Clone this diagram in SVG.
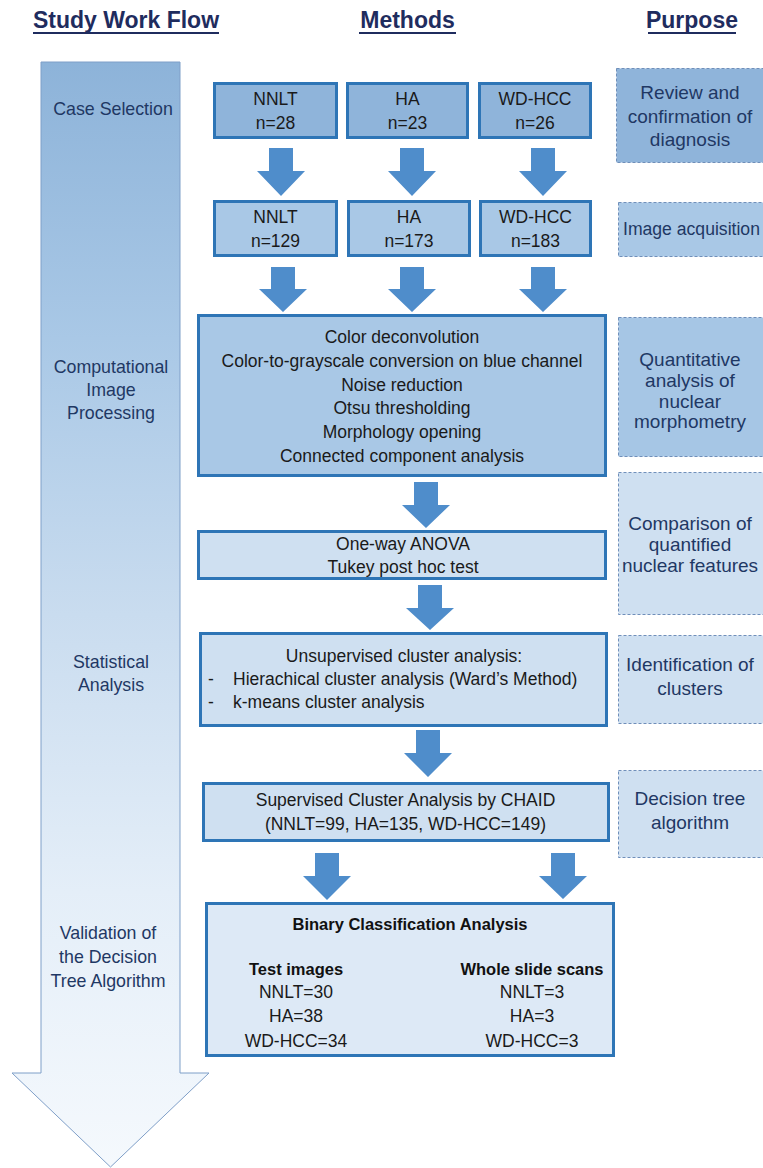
<svg xmlns="http://www.w3.org/2000/svg" width="763" height="1168" viewBox="0 0 763 1168">
<defs>
<linearGradient id="flowGrad" x1="0" y1="0" x2="0" y2="1">
<stop offset="0" stop-color="#8db3d9"/>
<stop offset="0.25" stop-color="#a9c8e6"/>
<stop offset="0.5" stop-color="#c9dcef"/>
<stop offset="0.75" stop-color="#e4eef8"/>
<stop offset="1" stop-color="#f5f9fd"/>
</linearGradient>
</defs>
<style>
text{font-family:"Liberation Sans",Arial,sans-serif}
.hdr{font-size:23px;font-weight:bold;fill:#1f2c5e;text-anchor:middle}
.ul{stroke:#1f2c5e;stroke-width:2}
.lbl{font-size:17.8px;fill:#1f3864;text-anchor:middle}
.pur{font-size:19px;fill:#1f3864;text-anchor:middle}
.m{font-size:17.5px;fill:#1a1a1a;text-anchor:middle}
.ms{font-size:17.5px;fill:#1a1a1a}
.b{font-size:16.5px;font-weight:bold;fill:#111;text-anchor:middle}
.box{stroke:#2e75b6;stroke-width:3}
.pbox{stroke:#6f8fba;stroke-width:1;stroke-dasharray:3 2}
.arr{fill:#4f8dcb}
.f1{fill:#8fb4da}
.f2{fill:#a9c8e6}
.f3{fill:#cfe0f1}
.f4{fill:#dde9f6}
</style>
<rect width="763" height="1168" fill="#ffffff"/>

<g id="headers">
<text class="hdr" x="126" y="28">Study Work Flow</text>
<line class="ul" x1="33" y1="33" x2="219" y2="33"/>
<text class="hdr" x="407.5" y="28">Methods</text>
<line class="ul" x1="359" y1="33" x2="456" y2="33"/>
<text class="hdr" x="692" y="28">Purpose</text>
<line class="ul" x1="648" y1="33" x2="736" y2="33"/>
</g>

<g id="workflow-arrow">
<polygon points="41,62 180,62 180,1073 209,1073 110.5,1167 12,1073 41,1073" fill="url(#flowGrad)" stroke="#7f9fc8" stroke-width="1"/>
<text class="lbl" x="113" y="115">Case Selection</text>
<text class="lbl" x="111" y="373">Computational</text>
<text class="lbl" x="111" y="396">Image</text>
<text class="lbl" x="111" y="419">Processing</text>
<text class="lbl" x="111" y="668">Statistical</text>
<text class="lbl" x="111" y="691">Analysis</text>
<text class="lbl" x="108" y="939">Validation of</text>
<text class="lbl" x="108" y="963">the Decision</text>
<text class="lbl" x="108" y="987">Tree Algorithm</text>
</g>

<g id="connectors">
<path class="arr" d="M269,148 h24 v23 h12 l-24,25 l-24,-25 h12 z"/>
<path class="arr" d="M400,148 h24 v23 h12 l-24,25 l-24,-25 h12 z"/>
<path class="arr" d="M531,148 h24 v23 h12 l-24,25 l-24,-25 h12 z"/>
<path class="arr" d="M271,267 h24 v22 h12 l-24,23 l-24,-23 h12 z"/>
<path class="arr" d="M400,267 h24 v22 h12 l-24,23 l-24,-23 h12 z"/>
<path class="arr" d="M531,267 h24 v22 h12 l-24,23 l-24,-23 h12 z"/>
<path class="arr" d="M414,482 h24 v23 h12 l-24,23 l-24,-23 h12 z"/>
<path class="arr" d="M418,585 h24 v23 h12 l-24,22 l-24,-22 h12 z"/>
<path class="arr" d="M416,730 h24 v23 h12 l-24,24 l-24,-24 h12 z"/>
<path class="arr" d="M315,853 h24 v23 h12 l-24,24 l-24,-24 h12 z"/>
<path class="arr" d="M551,853 h24 v23 h12 l-24,23 l-24,-23 h12 z"/>
</g>

<g id="nnlt-cases">
<rect class="box f1" x="214.5" y="83.5" width="122" height="54"/>
<text class="m" x="275.5" y="105">NNLT</text>
<text class="m" x="275.5" y="129">n=28</text>
</g>
<g id="ha-cases">
<rect class="box f1" x="347.5" y="83.5" width="120" height="54"/>
<text class="m" x="407.5" y="105">HA</text>
<text class="m" x="407.5" y="129">n=23</text>
</g>
<g id="wdhcc-cases">
<rect class="box f1" x="479.5" y="83.5" width="111" height="54"/>
<text class="m" x="535" y="105">WD-HCC</text>
<text class="m" x="535" y="129">n=26</text>
</g>

<g id="nnlt-images">
<rect class="box f2" x="214.5" y="201.5" width="122" height="54"/>
<text class="m" x="275.5" y="223">NNLT</text>
<text class="m" x="275.5" y="247">n=129</text>
</g>
<g id="ha-images">
<rect class="box f2" x="348.5" y="201.5" width="121" height="54"/>
<text class="m" x="409" y="223">HA</text>
<text class="m" x="409" y="247">n=173</text>
</g>
<g id="wdhcc-images">
<rect class="box f2" x="480.5" y="201.5" width="110" height="54"/>
<text class="m" x="535.5" y="223">WD-HCC</text>
<text class="m" x="535.5" y="247">n=183</text>
</g>

<g id="image-processing">
<rect class="box f2" x="198.5" y="315.5" width="407" height="160"/>
<text class="m" x="402" y="343">Color deconvolution</text>
<text class="m" x="402" y="367">Color-to-grayscale conversion on blue channel</text>
<text class="m" x="402" y="391">Noise reduction</text>
<text class="m" x="402" y="414">Otsu thresholding</text>
<text class="m" x="402" y="438">Morphology opening</text>
<text class="m" x="402" y="462">Connected component analysis</text>
</g>

<g id="anova">
<rect class="box f3" x="198.5" y="531.5" width="407" height="47"/>
<text class="m" x="403" y="550">One-way ANOVA</text>
<text class="m" x="403" y="573">Tukey post hoc test</text>
</g>

<g id="unsupervised">
<rect class="box f3" x="200.5" y="633.5" width="406" height="92"/>
<text class="m" x="404" y="662">Unsupervised cluster analysis:</text>
<text class="ms" x="208" y="685">-</text>
<text class="ms" x="233" y="685">Hierachical cluster analysis (Ward’s Method)</text>
<text class="ms" x="208" y="708">-</text>
<text class="ms" x="233" y="708">k-means cluster analysis</text>
</g>

<g id="supervised">
<rect class="box f3" x="203.5" y="783.5" width="405" height="57"/>
<text class="m" x="405.5" y="806">Supervised Cluster Analysis by CHAID</text>
<text class="m" x="405.5" y="830">(NNLT=99, HA=135, WD-HCC=149)</text>
</g>

<g id="binary">
<rect class="box f4" x="206.5" y="903.5" width="407" height="152"/>
<text class="b" x="410" y="930">Binary Classification Analysis</text>
<text class="b" x="296" y="975">Test images</text>
<text class="m" x="296" y="998">NNLT=30</text>
<text class="m" x="296" y="1022">HA=38</text>
<text class="m" x="296" y="1047">WD-HCC=34</text>
<text class="b" x="532" y="975">Whole slide scans</text>
<text class="m" x="532" y="998">NNLT=3</text>
<text class="m" x="532" y="1022">HA=3</text>
<text class="m" x="532" y="1047">WD-HCC=3</text>
</g>

<g id="purpose-review">
<rect class="pbox f1" x="616.5" y="68.5" width="160" height="94"/>
<text class="pur" x="690" y="99">Review and</text>
<text class="pur" x="690" y="122.5">confirmation of</text>
<text class="pur" x="690" y="146">diagnosis</text>
</g>
<g id="purpose-acquisition">
<rect class="pbox f2" x="618.5" y="202.5" width="160" height="54"/>
<text class="pur" x="623" y="235" style="text-anchor:start;font-size:17.6px">Image acquisition</text>
</g>
<g id="purpose-quantitative">
<rect class="pbox" fill="#a6c6e5" x="618.5" y="317.5" width="160" height="139"/>
<text class="pur" x="690" y="366">Quantitative</text>
<text class="pur" x="690" y="387">analysis of</text>
<text class="pur" x="690" y="407.5">nuclear</text>
<text class="pur" x="690" y="428">morphometry</text>
</g>
<g id="purpose-comparison">
<rect class="pbox f3" x="618.5" y="472.5" width="160" height="142"/>
<text class="pur" x="690" y="530">Comparison of</text>
<text class="pur" x="690" y="551">quantified</text>
<text class="pur" x="690" y="572">nuclear features</text>
</g>
<g id="purpose-identification">
<rect class="pbox f3" x="618.5" y="635.5" width="160" height="88"/>
<text class="pur" x="690" y="671">Identification of</text>
<text class="pur" x="690" y="695">clusters</text>
</g>
<g id="purpose-decision">
<rect class="pbox f3" x="618.5" y="770.5" width="160" height="87"/>
<text class="pur" x="690" y="805">Decision tree</text>
<text class="pur" x="690" y="829">algorithm</text>
</g>
</svg>
